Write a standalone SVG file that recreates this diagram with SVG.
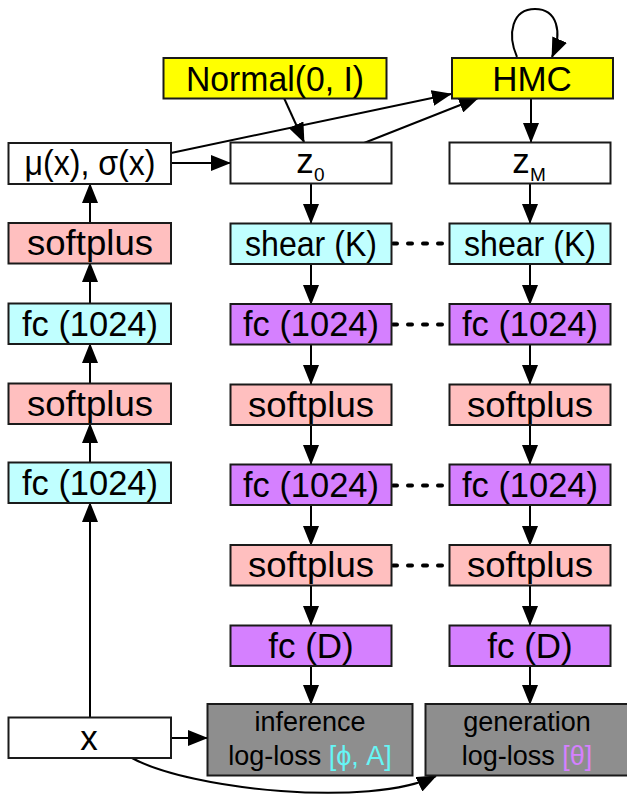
<svg xmlns="http://www.w3.org/2000/svg" width="627" height="795" viewBox="0 0 627 795">
<defs>
<marker id="ah" markerUnits="userSpaceOnUse" markerWidth="20" markerHeight="16" refX="19" refY="8" orient="auto">
<path d="M0,0 L20,8 L0,16 z" fill="#000"/>
</marker>
<style>
.b{stroke:#1a1a1a;stroke-width:2}
.w{fill:#fff}.y{fill:#ffff00}.c{fill:#c0ffff}.p{fill:#ffbfbf}.v{fill:#d580ff}.g{fill:#8e8e8e}
text{font-family:"Liberation Sans",Arial,Helvetica,sans-serif;fill:#000;text-anchor:middle}
.t{font-size:35px}.s{font-size:27px}.sub{font-size:19px;text-anchor:start}
.e{stroke:#000;stroke-width:2;fill:none;marker-end:url(#ah)}
.d{stroke:#000;stroke-width:4;fill:none;stroke-dasharray:4 11;stroke-linecap:round}
</style>
</defs>
<rect width="627" height="795" fill="#fff"/>
<g id="connectors">
<path class="e" d="M90 717 V503"/>
<path class="e" d="M90 462 V424"/>
<path class="e" d="M90 383 V344"/>
<path class="e" d="M90 303 V263"/>
<path class="e" d="M90 223 V184"/>
<path class="e" d="M171 163 H230"/>
<path class="e" d="M171 153 L451 94"/>
<path class="e" d="M364 143 L478 98"/>
<path class="e" d="M284 98 L304 142"/>
<path class="e" d="M531 99 V142"/>
<path class="e" d="M517 57 C507 34 512 9 535 9 C557 9 563 32 552 57"/>
<path class="e" d="M311 183 V223"/>
<path class="e" d="M311 264 V304"/>
<path class="e" d="M311 345 V384"/>
<path class="e" d="M311 425 V464"/>
<path class="e" d="M311 505 V545"/>
<path class="e" d="M311 586 V625"/>
<path class="e" d="M311 666 V704"/>
<path class="e" d="M530 183 V223"/>
<path class="e" d="M530 264 V304"/>
<path class="e" d="M530 345 V384"/>
<path class="e" d="M530 425 V464"/>
<path class="e" d="M530 505 V545"/>
<path class="e" d="M530 586 V625"/>
<path class="e" d="M530 666 V704"/>
<path class="e" d="M171 738 H207"/>
<path class="e" d="M132 758 C190 790 370 808 436 776"/>
<path class="d" d="M393 243.5 H448"/>
<path class="d" d="M393 324.5 H448"/>
<path class="d" d="M393 485.5 H448"/>
<path class="d" d="M393 565.5 H448"/>
</g>
<g id="normal"><rect class="b y" x="163.5" y="58" width="223" height="40.5"/><text class="t" x="275" y="91" textLength="178" lengthAdjust="spacingAndGlyphs">Normal(0, I)</text></g>
<g id="hmc"><rect class="b y" x="452" y="58" width="161" height="40.5"/><text class="t" x="532" y="91">HMC</text></g>
<g id="musigma"><rect class="b w" x="8.5" y="143" width="162.5" height="41"/><text class="t" x="90" y="175" textLength="131" lengthAdjust="spacingAndGlyphs">μ(x), σ(x)</text></g>
<g id="z0"><rect class="b w" x="230.5" y="142.5" width="161" height="41"/><text class="t" x="305" y="173">z</text><text class="sub" x="314" y="181">0</text></g>
<g id="zM"><rect class="b w" x="449.5" y="142.5" width="161" height="41"/><text class="t" x="521" y="173">z</text><text class="sub" x="530" y="181">M</text></g>
<g id="l-softplus2"><rect class="b p" x="8.5" y="223" width="162.5" height="40.5"/><text class="t" x="90" y="255" textLength="126" lengthAdjust="spacingAndGlyphs">softplus</text></g>
<g id="l-fc2"><rect class="b c" x="8.5" y="303.5" width="162.5" height="40.5"/><text class="t" x="90" y="336" textLength="136" lengthAdjust="spacingAndGlyphs">fc (1024)</text></g>
<g id="l-softplus1"><rect class="b p" x="8.5" y="383.5" width="162.5" height="40.5"/><text class="t" x="90" y="416" textLength="126" lengthAdjust="spacingAndGlyphs">softplus</text></g>
<g id="l-fc1"><rect class="b c" x="8.5" y="462.5" width="162.5" height="40.5"/><text class="t" x="90" y="495" textLength="136" lengthAdjust="spacingAndGlyphs">fc (1024)</text></g>
<g id="m-shear"><rect class="b c" x="230.5" y="223.5" width="161" height="40.5"/><text class="t" x="311" y="256" textLength="132" lengthAdjust="spacingAndGlyphs">shear (K)</text></g>
<g id="m-fc1"><rect class="b v" x="230.5" y="304" width="161" height="40.5"/><text class="t" x="311" y="336" textLength="136" lengthAdjust="spacingAndGlyphs">fc (1024)</text></g>
<g id="m-softplus1"><rect class="b p" x="230.5" y="384.5" width="161" height="40.5"/><text class="t" x="311" y="417" textLength="126" lengthAdjust="spacingAndGlyphs">softplus</text></g>
<g id="m-fc2"><rect class="b v" x="230.5" y="464.5" width="161" height="40.5"/><text class="t" x="311" y="497" textLength="136" lengthAdjust="spacingAndGlyphs">fc (1024)</text></g>
<g id="m-softplus2"><rect class="b p" x="230.5" y="545" width="161" height="40.5"/><text class="t" x="311" y="577" textLength="126" lengthAdjust="spacingAndGlyphs">softplus</text></g>
<g id="m-fcD"><rect class="b v" x="230.5" y="625.5" width="161" height="40.5"/><text class="t" x="311" y="658">fc (D)</text></g>
<g id="r-shear"><rect class="b c" x="449.5" y="223.5" width="161" height="40.5"/><text class="t" x="530" y="256" textLength="132" lengthAdjust="spacingAndGlyphs">shear (K)</text></g>
<g id="r-fc1"><rect class="b v" x="449.5" y="304" width="161" height="40.5"/><text class="t" x="530" y="336" textLength="136" lengthAdjust="spacingAndGlyphs">fc (1024)</text></g>
<g id="r-softplus1"><rect class="b p" x="449.5" y="384.5" width="161" height="40.5"/><text class="t" x="530" y="417" textLength="126" lengthAdjust="spacingAndGlyphs">softplus</text></g>
<g id="r-fc2"><rect class="b v" x="449.5" y="464.5" width="161" height="40.5"/><text class="t" x="530" y="497" textLength="136" lengthAdjust="spacingAndGlyphs">fc (1024)</text></g>
<g id="r-softplus2"><rect class="b p" x="449.5" y="545" width="161" height="40.5"/><text class="t" x="530" y="577" textLength="126" lengthAdjust="spacingAndGlyphs">softplus</text></g>
<g id="r-fcD"><rect class="b v" x="449.5" y="625.5" width="161" height="40.5"/><text class="t" x="530" y="658">fc (D)</text></g>
<g id="x"><rect class="b w" x="8.5" y="717.5" width="162.5" height="40.5"/><text class="t" x="89" y="750">x</text></g>
<g id="inference"><rect class="b g" x="207.5" y="704" width="205" height="71.5"/><text class="s" x="310" y="731">inference</text><text class="s" x="310" y="765">log-loss <tspan fill="#66f5f5">[ϕ, A]</tspan></text></g>
<g id="generation"><rect class="b g" x="425.5" y="704" width="205" height="71.5"/><text class="s" x="527" y="731">generation</text><text class="s" x="527" y="765">log-loss <tspan fill="#d580ff">[θ]</tspan></text></g>
</svg>
